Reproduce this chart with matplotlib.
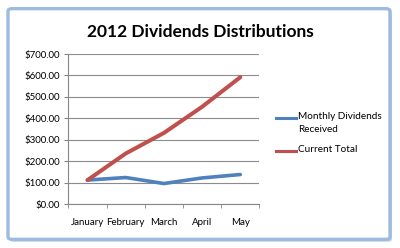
import matplotlib.pyplot as plt
from matplotlib.patches import FancyBboxPatch
from matplotlib.lines import Line2D
from matplotlib.ticker import FixedLocator

months = ["January", "February", "March", "April", "May"]
monthly = [112, 124, 96, 122, 138]
total = [112, 236, 332, 454, 592]
yticks = [0, 100, 200, 300, 400, 500, 600, 700]
series_names = ["Monthly Dividends\nReceived", "Current Total"]

FONT = ["Lato", "DejaVu Sans"]
BLUE = "#4f81bd"
RED = "#c0504d"

fig = plt.figure(figsize=(4, 2.48), dpi=100)

# chart frame with a soft shadow
shadow = FancyBboxPatch((0.025, 0.025), 0.955, 0.93, boxstyle="round,pad=0,rounding_size=0.01",
                        transform=fig.transFigure, facecolor="#c9d3df", edgecolor="none", zorder=0)
frame = FancyBboxPatch((0.02, 0.035), 0.955, 0.93, boxstyle="round,pad=0,rounding_size=0.01",
                       transform=fig.transFigure, facecolor="white", edgecolor="#9dbbe0",
                       linewidth=2.4, zorder=1)
fig.patches.extend([shadow, frame])

ax = fig.add_axes([0.171, 0.177, 0.4775, 0.605])
ax.set_zorder(2)
ax.patch.set_alpha(0)

x = range(len(months))
ax.plot(x, monthly, color=BLUE, lw=2.6, solid_capstyle="round")
ax.plot(x, total, color=RED, lw=2.9, solid_capstyle="round")

ax.set_xlim(-0.5, 4.5)
ax.set_ylim(0, 700)
ax.set_yticks(yticks)
ax.set_yticklabels(["${:.2f}".format(v) for v in yticks], family=FONT, fontsize=7)
ax.set_xticks(list(x))
ax.set_xticklabels(months, family=FONT, fontsize=7)
ax.tick_params(axis="x", which="major", length=0, pad=10)
ax.xaxis.set_minor_locator(FixedLocator([-0.5, 0.5, 1.5, 2.5, 3.5, 4.5]))
ax.tick_params(axis="x", which="minor", length=3, color="#868686")
ax.tick_params(axis="y", length=3, color="#868686", pad=3)
ax.grid(axis="y", color="#8c8c8c", lw=0.8)
ax.set_axisbelow(True)
for s in ["top", "right"]:
    ax.spines[s].set_visible(False)
for s in ["left", "bottom"]:
    ax.spines[s].set_color("#868686")
    ax.spines[s].set_linewidth(0.8)

fig.text(0.5, 0.87, "2012 Dividends Distributions", ha="center", va="center",
         fontsize=12.5, fontweight="bold", family=FONT)

# legend, handle lines up with the first text line as in Excel
leg_y = [0.524, 0.391]
for name, col, ly in zip(series_names, [BLUE, RED], leg_y):
    fig.add_artist(Line2D([0.69, 0.74], [ly, ly], color=col, lw=2.2, transform=fig.transFigure))
    fig.text(0.745, ly, name, ha="left", va="top", fontsize=7.2, family=FONT,
             linespacing=1.55, transform=fig.transFigure).set_y(ly + 0.024)

fig.savefig("out.png", dpi=100)
